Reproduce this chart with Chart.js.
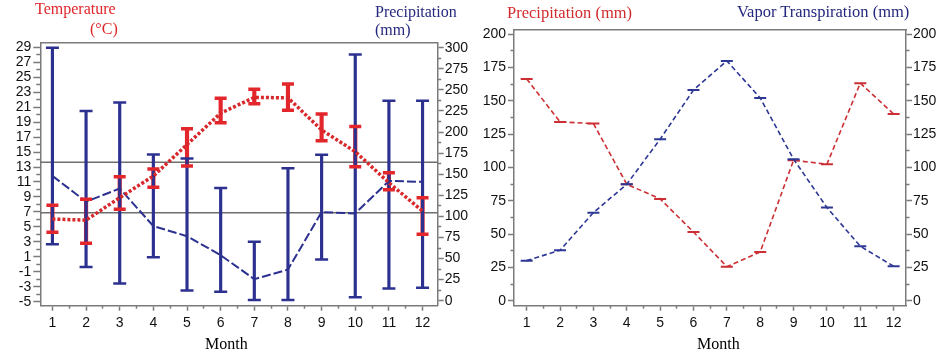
<!DOCTYPE html>
<html>
<head>
<meta charset="utf-8">
<title>Temperature, precipitation and vapor transpiration by month</title>
<script src="https://cdn.jsdelivr.net/npm/chart.js@4.4.1/dist/chart.umd.min.js"></script>
<style>
  html, body { margin: 0; padding: 0; background: #fff; }
  #wrap { position: relative; width: 940px; height: 354px; overflow: hidden; }
  #wrap canvas { position: absolute; top: 0; }
  .lbl { position: absolute; font: 16px/1 "Liberation Serif", "Times New Roman", serif; white-space: nowrap; color: #000; }
  .red { color: #e0262b; }
  .navy { color: #24287e; }
</style>
</head>
<body>
<div id="wrap">
  <canvas id="left" width="470" height="354" style="left:0"></canvas>
  <canvas id="right" width="470" height="354" style="left:470px"></canvas>
  <span class="lbl red" style="left:35px;top:1px">Temperature</span>
  <span class="lbl red" style="left:90px;top:21px">(°C)</span>
  <span class="lbl navy" style="left:375px;top:4px">Precipitation</span>
  <span class="lbl navy" style="left:375px;top:22px">(mm)</span>
  <span class="lbl" style="left:205px;top:336px">Month</span>
  <span class="lbl red" style="left:507px;top:5px;font-size:16.5px;color:#d12a2e">Precipitation (mm)</span>
  <span class="lbl navy" style="left:737px;top:4px;font-size:16.5px">Vapor Transpiration (mm)</span>
  <span class="lbl" style="left:697px;top:336px">Month</span>
</div>
<script>
(function () {
  const MONTHS = [1, 2, 3, 4, 5, 6, 7, 8, 9, 10, 11, 12];

  // left panel: temperature (°C), mean and error bar ends
  const TEMP_MEAN = [6.05, 5.9, 8.9, 11.8, 16.0, 20.2, 22.3, 22.25, 17.95, 15.05, 10.9, 7.1];
  const TEMP_HIGH = [7.9, 8.7, 11.7, 12.75, 18.1, 22.2, 23.4, 24.1, 20.1, 18.4, 12.25, 8.9];
  const TEMP_LOW = [4.3, 2.8, 7.35, 10.3, 13.15, 18.9, 21.45, 20.6, 16.5, 13.05, 9.95, 4.0];

  // left panel: precipitation (mm), mean and error bar ends
  const RAIN_MEAN = [148, 117.5, 133, 88.5, 76.5, 54, 25.5, 37, 105, 103.5, 142, 141];
  const RAIN_HIGH = [300, 225, 235, 173.5, 168.5, 133.5, 70, 157, 173, 292, 237, 237];
  const RAIN_LOW = [67, 40, 20.5, 51.5, 12, 10.5, 1, 1, 49, 4, 14.5, 15.5];

  // grey reference lines (°C)
  const REF_LINES = [13.65, 6.9];

  // right panel (mm)
  const PRECIP = [166.5, 134.2, 133, 87.5, 76.5, 51.7, 25.7, 36.7, 105.5, 102.5, 163.3, 140.2];
  const VAPOR = [30.2, 38, 66.2, 87.5, 121.3, 158.2, 180, 152.2, 106.3, 70, 41, 26];

  // tick labels
  const TEMP_TICKS = [-5, -3, -1, 1, 3, 5, 7, 9, 11, 13, 15, 17, 19, 21, 23, 25, 27, 29];
  const RAIN_TICKS = [0, 25, 50, 75, 100, 125, 150, 175, 200, 225, 250, 275, 300];
  const MM_TICKS = [0, 25, 50, 75, 100, 125, 150, 175, 200];

  const RED = "#e3262c";
  const RED_LINE = "#d8282b";
  const NAVY = "#2c3190";
  const RED2 = "#cc2f33";
  const NAVY2 = "#2d3794";
  const GRAY = "#7b7b7b";
  const TICK_FONT = { family: '"Liberation Sans", Arial, sans-serif', size: 14 };

  const mids = (arr) => arr.slice(1).map((v, i) => (v + arr[i]) / 2);
  const pts = (ys) => MONTHS.map((m, i) => ({ x: m, y: ys[i] }));
  const ranges = (lo, hi) => MONTHS.map((m, i) => ({ x: m, y: [lo[i], hi[i]] }));
  const caps = (lo, hi) => MONTHS.flatMap((m, i) => [{ x: m, y: hi[i] }, { x: m, y: lo[i] }]);

  function majorAxis(pos, min, max, ticks, size, pad, tl) {
    return {
      type: "linear", position: pos, min, max, weight: 1, offset: false,
      afterBuildTicks: (a) => { a.ticks = ticks.map((v) => ({ value: v })); },
      afterFit: (a) => { if (a.isHorizontal()) a.height = size; else a.width = size; },
      ticks: { font: TICK_FONT, color: "#111", padding: pad, autoSkip: false, maxRotation: 0, callback: (v) => String(v) },
      grid: { drawOnChartArea: false, offset: false, tickLength: tl, tickColor: GRAY, tickWidth: 1.5 },
      border: { color: GRAY, width: 1.5 },
    };
  }

  function minorAxis(pos, min, max, ticks, tl) {
    return {
      type: "linear", position: pos, min, max, weight: 0, offset: false,
      afterBuildTicks: (a) => { a.ticks = ticks.map((v) => ({ value: v })); },
      afterFit: (a) => { if (a.isHorizontal()) a.height = 0; else a.width = 0; },
      ticks: { display: false },
      grid: { drawOnChartArea: false, offset: false, tickLength: tl, tickColor: GRAY, tickWidth: 1.5 },
      border: { display: false },
    };
  }

  function topBorder(min, max) {
    return {
      type: "linear", position: "top", min, max,
      afterFit: (a) => { a.height = 0; },
      ticks: { display: false },
      grid: { drawOnChartArea: false, drawTicks: false },
      border: { color: GRAY, width: 1.5 },
    };
  }

  const common = {
    responsive: false,
    animation: false,
    events: [],
    plugins: { legend: { display: false }, tooltip: { enabled: false } },
  };

  // ---- left panel
  const LX_MIN = 0.64, LX_MAX = 12.45;
  const monthMinor = mids(MONTHS);

  new Chart(document.getElementById("left"), {
    type: "line",
    data: {
      datasets: [
        ...REF_LINES.map((v) => ({
          type: "line", yAxisID: "y", order: 10,
          data: [{ x: LX_MIN, y: v }, { x: LX_MAX, y: v }],
          borderColor: "#6e6e6e", borderWidth: 1.5, pointRadius: 0,
        })),
        {
          type: "bar", yAxisID: "y", order: 9, grouped: false,
          data: ranges(TEMP_LOW, TEMP_HIGH),
          backgroundColor: RED, barThickness: 3.5, borderWidth: 0,
        },
        {
          type: "bar", yAxisID: "y2", order: 8, grouped: false,
          data: ranges(RAIN_LOW, RAIN_HIGH),
          backgroundColor: NAVY, barThickness: 2.5, borderWidth: 0,
        },
        {
          type: "line", yAxisID: "y2", order: 7, showLine: false,
          data: caps(RAIN_LOW, RAIN_HIGH),
          pointStyle: "line", pointRadius: 6.5, pointBorderWidth: 2.5, pointBorderColor: NAVY,
        },
        {
          type: "line", yAxisID: "y2", order: 6,
          data: pts(RAIN_MEAN),
          borderColor: NAVY, borderWidth: 2, borderDash: [9, 3], pointRadius: 0,
        },
        {
          type: "line", yAxisID: "y", order: 5,
          data: pts(TEMP_MEAN),
          borderColor: RED_LINE, borderWidth: 3.5, borderDash: [3, 2], pointRadius: 0,
        },
        {
          type: "line", yAxisID: "y", order: 4, showLine: false,
          data: caps(TEMP_LOW, TEMP_HIGH),
          pointStyle: "line", pointRadius: 6, pointBorderWidth: 3.5, pointBorderColor: RED,
        },
      ],
    },
    options: {
      ...common,
      layout: { padding: { top: 42.7, left: 0, right: 0, bottom: 0 } },
      scales: {
        x: majorAxis("bottom", LX_MIN, LX_MAX, MONTHS, 48.3, 4, 5),
        xMinor: minorAxis("bottom", LX_MIN, LX_MAX, monthMinor, 3),
        xTop: topBorder(LX_MIN, LX_MAX),
        y: majorAxis("left", -5.53, 29.61, TEMP_TICKS, 40.3, 2, 7),
        yMinor: minorAxis("left", -5.53, 29.61, mids(TEMP_TICKS), 4),
        y2: majorAxis("right", -5.9, 305.9, RAIN_TICKS, 32.3, 1, 6),
        y2Minor: minorAxis("right", -5.9, 305.9, mids(RAIN_TICKS), 3.5),
      },
    },
  });

  // ---- right panel
  const RX_MIN = 0.62, RX_MAX = 12.37;
  const MM_MIN = -3.6, MM_MAX = 203.7;

  new Chart(document.getElementById("right"), {
    type: "line",
    data: {
      datasets: [
        {
          label: "Precipitation (mm)", yAxisID: "y", order: 2,
          data: pts(PRECIP),
          borderColor: RED2, borderWidth: 1.6, borderDash: [5, 3],
          pointStyle: "line", pointRadius: 6, pointBorderWidth: 2, pointBorderColor: RED2,
        },
        {
          label: "Vapor Transpiration (mm)", yAxisID: "y", order: 1,
          data: pts(VAPOR),
          borderColor: NAVY2, borderWidth: 1.6, borderDash: [5, 3],
          pointStyle: "line", pointRadius: 6, pointBorderWidth: 2, pointBorderColor: NAVY2,
        },
      ],
    },
    options: {
      ...common,
      layout: { padding: { top: 29.3, left: 0, right: 0, bottom: 0 } },
      scales: {
        x: majorAxis("bottom", RX_MIN, RX_MAX, MONTHS, 48.3, 4, 5),
        xMinor: minorAxis("bottom", RX_MIN, RX_MAX, monthMinor, 3),
        xTop: topBorder(RX_MIN, RX_MAX),
        y: majorAxis("left", MM_MIN, MM_MAX, MM_TICKS, 44, 2, 6),
        yMinor: minorAxis("left", MM_MIN, MM_MAX, mids(MM_TICKS), 3.5),
        y2: majorAxis("right", MM_MIN, MM_MAX, MM_TICKS, 34, 1, 6),
        y2Minor: minorAxis("right", MM_MIN, MM_MAX, mids(MM_TICKS), 3.5),
      },
    },
  });
})();
</script>
</body>
</html>
